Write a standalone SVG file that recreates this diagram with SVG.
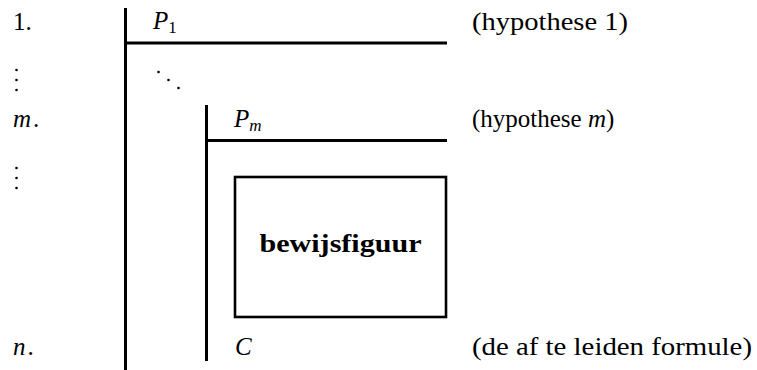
<svg xmlns="http://www.w3.org/2000/svg" width="757" height="370" viewBox="0 0 757 370">
<style>
.t{font-family:'Liberation Serif','Tinos','Times New Roman','DejaVu Serif',serif;font-size:25px;fill:#000}
.i{font-style:italic}
.s{font-size:17px}
.b{font-weight:bold}
.ln{stroke:#000;stroke-width:3;fill:none}
.dot{fill:#000}
</style>
<rect width="757" height="370" fill="#fff"/>
<g id="lines">
<line class="ln" x1="125.5" y1="8" x2="125.5" y2="370"/>
<line class="ln" x1="124" y1="43" x2="447" y2="43"/>
<line class="ln" x1="206.5" y1="105" x2="206.5" y2="361"/>
<line class="ln" x1="205" y1="140.5" x2="447" y2="140.5"/>
</g>
<g id="box">
<rect x="235" y="177" width="211" height="140" fill="none" stroke="#000" stroke-width="2.6"/>
<text class="t b" x="340.5" y="252" text-anchor="middle" textLength="162" lengthAdjust="spacingAndGlyphs">bewijsfiguur</text>
</g>
<g id="numbers">
<text class="t" x="13" y="30">1.</text>
<g class="dot"><circle cx="16.5" cy="70" r="1.3"/><circle cx="16.5" cy="80" r="1.3"/><circle cx="16.5" cy="90" r="1.3"/></g>
<text class="t" x="13" y="127"><tspan class="i">m</tspan><tspan dx="2">.</tspan></text>
<g class="dot"><circle cx="16.5" cy="168" r="1.3"/><circle cx="16.5" cy="178" r="1.3"/><circle cx="16.5" cy="188" r="1.3"/></g>
<text class="t" x="13" y="355"><tspan class="i">n</tspan><tspan dx="2">.</tspan></text>
</g>
<g id="formulas">
<text class="t" x="153" y="29"><tspan class="i">P</tspan><tspan class="s" dy="4">1</tspan></text>
<g class="dot"><circle cx="158.5" cy="72" r="1.3"/><circle cx="168.5" cy="80" r="1.3"/><circle cx="178.5" cy="88" r="1.3"/></g>
<text class="t" x="234" y="127"><tspan class="i">P</tspan><tspan class="s i" dy="4">m</tspan></text>
<text class="t i" x="235" y="355">C</text>
</g>
<g id="comments">
<text class="t" x="472" y="30" textLength="156" lengthAdjust="spacingAndGlyphs">(hypothese 1)</text>
<text class="t" x="472" y="127">(hypothese <tspan class="i">m</tspan>)</text>
<text class="t" x="472" y="355" textLength="280" lengthAdjust="spacingAndGlyphs">(de af te leiden formule)</text>
</g>
</svg>
